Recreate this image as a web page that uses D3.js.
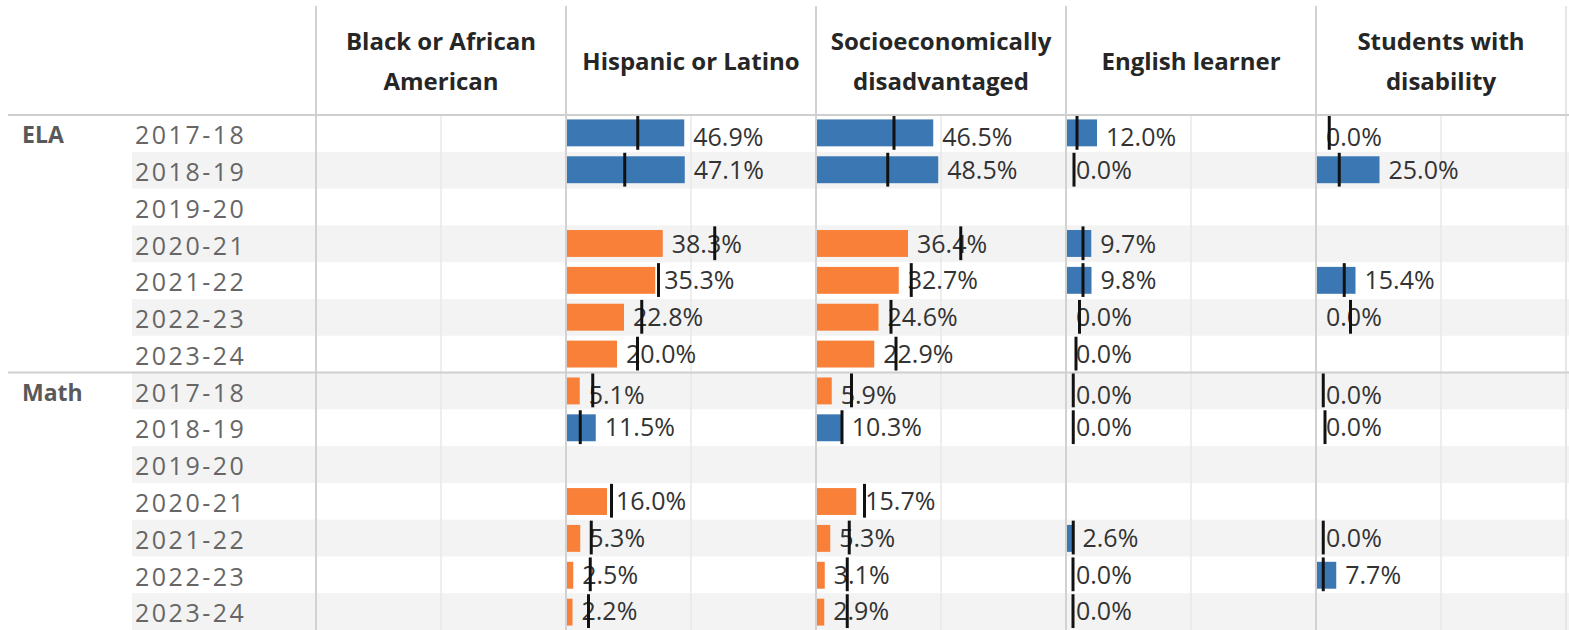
<!DOCTYPE html>
<html>
<head>
<meta charset="utf-8">
<script src="https://cdn.jsdelivr.net/npm/d3@7"></script>
<style>
	body { margin: 0; background: #ffffff; }
	svg { display: block; font-family: "Open Sans", sans-serif; }
</style>
</head>
<body>
<figure id="gapChart" style="margin:0"></figure>
<script>

// row and column categories
var subjects = [ "ELA", "Math" ];
var years = [ "2017-18", "2018-19", "2019-20", "2020-21", "2021-22", "2022-23", "2023-24" ];
var groups = [ "Black or African American", "Hispanic or Latino", "Socioeconomically disadvantaged", "English learner", "Students with disability" ];
// header text split in lines like the table shows it
var groupLines = [ [ "Black or African", "American" ], [ "Hispanic or Latino" ], [ "Socioeconomically", "disadvantaged" ], [ "English learner" ], [ "Students with", "disability" ] ];

// percent met or exceeded, ELA then Math (null = no data)
var blackEla = [ null, null, null, null, null, null, null ];
var blackMath = [ null, null, null, null, null, null, null ];
var hispanicEla = [ 46.9, 47.1, null, 38.3, 35.3, 22.8, 20.0 ];
var hispanicMath = [ 5.1, 11.5, null, 16.0, 5.3, 2.5, 2.2 ];
var sedEla = [ 46.5, 48.5, null, 36.4, 32.7, 24.6, 22.9 ];
var sedMath = [ 5.9, 10.3, null, 15.7, 5.3, 3.1, 2.9 ];
var elEla = [ 12.0, 0.0, null, 9.7, 9.8, 0.0, 0.0 ];
var elMath = [ 0.0, 0.0, null, null, 2.6, 0.0, 0.0 ];
var swdEla = [ 0.0, 25.0, null, null, 15.4, 0.0, null ];
var swdMath = [ 0.0, 0.0, null, null, 0.0, 7.7, null ];

// comparison marks (black ticks), same layout
var hispanicElaRef = [ 28.3, 23.1, null, 59.1, 36.6, 29.9, 28.2 ];
var hispanicMathRef = [ 10.3, 5.3, null, 17.8, 9.7, 9.3, 8.6 ];
var sedElaRef = [ 30.8, 28.3, null, 57.5, 37.7, 29.6, 31.6 ];
var sedMathRef = [ 13.8, 10.0, null, 19.0, 12.9, 12.1, 12.1 ];
var elElaRef = [ 4.0, 2.8, null, 6.4, 6.4, 5.0, 3.6 ];
var elMathRef = [ 2.5, 2.5, null, null, 2.5, 2.4, 2.4 ];
var swdElaRef = [ 4.9, 8.9, null, null, 10.9, 13.4, null ];
var swdMathRef = [ 2.5, 3.2, null, null, 2.5, 2.5, null ];

var seriesValues = [ [ blackEla, blackMath ], [ hispanicEla, hispanicMath ], [ sedEla, sedMath ], [ elEla, elMath ], [ swdEla, swdMath ] ];
var seriesRefs = [ [ blackEla, blackMath ], [ hispanicElaRef, hispanicMathRef ], [ sedElaRef, sedMathRef ], [ elElaRef, elMathRef ], [ swdElaRef, swdMathRef ] ];

function drawTable() {

	var dimensions = {
		width: 1569,
		height: 630,
		headerBottom: 115,
		panelLeft: 316,
		panelRight: 1566,
		stripeLeft: 132
	};

	var svg = d3.select( "figure#gapChart" )
		.append( "svg" )
		.attr( "width", dimensions.width )
		.attr( "height", dimensions.height );

	// one row key per subject + year
	var rows = [];
	subjects.forEach( ( s, si ) => years.forEach( ( y, yi ) => rows.push( { key: s + "|" + y, subject: s, year: y, si: si, yi: yi } ) ) );

	var yScale = d3.scaleBand()
		.domain( rows.map( d => d.key ) )
		.range( [ dimensions.headerBottom, dimensions.height ] );

	var barBand = d3.scaleBand()
		.domain( rows.map( d => d.key ) )
		.range( [ dimensions.headerBottom, dimensions.height ] )
		.paddingInner( 0.27 )
		.paddingOuter( 0.12 );

	var panelScale = d3.scaleBand()
		.domain( groups )
		.range( [ dimensions.panelLeft, dimensions.panelRight ] );

	var xScale = d3.scaleLinear()
		.domain( [ 0, 100 ] )
		.range( [ 0, panelScale.bandwidth() ] );

	// alternating row stripes
	svg.append( "g" ).selectAll( "rect" )
		.data( rows.filter( ( d, i ) => i % 2 == 1 ) )
		.enter()
		.append( "rect" )
		.attr( "x", dimensions.stripeLeft )
		.attr( "y", d => yScale( d.key ) )
		.attr( "width", dimensions.width - dimensions.stripeLeft )
		.attr( "height", yScale.bandwidth() )
		.attr( "fill", "#f3f3f3" );

	// 50% gridline inside each panel
	svg.append( "g" ).selectAll( "line" )
		.data( groups )
		.enter()
		.append( "line" )
		.attr( "x1", d => panelScale( d ) + xScale( 50 ) )
		.attr( "x2", d => panelScale( d ) + xScale( 50 ) )
		.attr( "y1", dimensions.headerBottom )
		.attr( "y2", dimensions.height )
		.attr( "stroke", "#e8e8e8" )
		.attr( "stroke-width", 1.5 );

	// panel borders, top to bottom
	svg.append( "g" ).selectAll( "line" )
		.data( groups.concat( [ "end" ] ) )
		.enter()
		.append( "line" )
		.attr( "x1", d => d == "end" ? dimensions.panelRight : panelScale( d ) )
		.attr( "x2", d => d == "end" ? dimensions.panelRight : panelScale( d ) )
		.attr( "y1", 6 )
		.attr( "y2", dimensions.height )
		.attr( "stroke", d => d == "end" ? "#e6e6e6" : "#d2d2d2" )
		.attr( "stroke-width", 2 );

	// header line and the line between subjects
	svg.append( "g" ).selectAll( "line" )
		.data( [ rows[ 0 ].key, rows[ years.length ].key ] )
		.enter()
		.append( "line" )
		.attr( "x1", 8 )
		.attr( "x2", dimensions.width )
		.attr( "y1", d => yScale( d ) )
		.attr( "y2", d => yScale( d ) )
		.attr( "stroke", "#cfcfcf" )
		.attr( "stroke-width", 2 );

	// column headers
	var headers = svg.append( "g" ).selectAll( "text" )
		.data( groups )
		.enter()
		.append( "text" )
		.attr( "text-anchor", "middle" )
		.style( "font-size", "24px" )
		.style( "font-weight", "bold" )
		.style( "fill", "#262626" );

	headers.selectAll( "tspan" )
		.data( ( d, i ) => groupLines[ i ].map( t => ( { text: t, group: d, n: groupLines[ i ].length } ) ) )
		.enter()
		.append( "tspan" )
		.attr( "x", d => panelScale( d.group ) + panelScale.bandwidth() / 2 )
		.attr( "y", ( d, i ) => d.n == 1 ? 70 : 50 + i * 40 )
		.text( d => d.text );

	// row headers: subject and year
	svg.append( "g" ).selectAll( "text" )
		.data( rows.filter( d => d.yi == 0 ) )
		.enter()
		.append( "text" )
		.attr( "x", 22 )
		.attr( "y", d => yScale( d.key ) + yScale.bandwidth() / 2 + 2 )
		.attr( "dy", "0.35em" )
		.style( "font-size", "23px" )
		.style( "font-weight", "bold" )
		.style( "fill", "#595959" )
		.text( d => d.subject );

	svg.append( "g" ).selectAll( "text" )
		.data( rows )
		.enter()
		.append( "text" )
		.attr( "x", 135 )
		.attr( "y", d => yScale( d.key ) + yScale.bandwidth() / 2 + 2 )
		.attr( "dy", "0.35em" )
		.style( "font-size", "25px" )
		.style( "letter-spacing", "2.5px" )
		.style( "fill", "#666666" )
		.text( d => d.year );

	// flatten the values into one mark per cell
	var cells = [];
	groups.forEach( ( g, gi ) => rows.forEach( r => {
		var v = seriesValues[ gi ][ r.si ][ r.yi ];
		var ref = seriesRefs[ gi ][ r.si ][ r.yi ];
		if ( v != null && gi > 0 ) cells.push( { group: g, row: r, value: v, ref: ref } );
	} ) );

	var barColor = d => d.value >= d.ref ? "#3b77b2" : "#f98039";

	svg.append( "g" ).selectAll( "rect" )
		.data( cells.filter( d => d.value > 0 ) )
		.enter()
		.append( "rect" )
		.attr( "x", d => panelScale( d.group ) + 1 )
		.attr( "y", d => barBand( d.row.key ) )
		.attr( "width", d => xScale( d.value ) )
		.attr( "height", barBand.bandwidth() )
		.attr( "fill", barColor );

	// value labels, first row of each subject sits a bit lower
	svg.append( "g" ).selectAll( "text" )
		.data( cells )
		.enter()
		.append( "text" )
		.attr( "x", d => panelScale( d.group ) + 1 + xScale( d.value ) + 9 )
		.attr( "y", d => yScale( d.row.key ) + yScale.bandwidth() / 2 + ( d.row.yi == 0 ? 4 : 0 ) )
		.attr( "dy", "0.35em" )
		.style( "font-size", "25px" )
		.style( "fill", "#333333" )
		.text( d => d3.format( ".1%" )( d.value / 100 ) );

	// reference ticks drawn on top
	svg.append( "g" ).selectAll( "line" )
		.data( cells.filter( d => d.ref != null ) )
		.enter()
		.append( "line" )
		.attr( "x1", d => panelScale( d.group ) + 1 + xScale( d.ref ) )
		.attr( "x2", d => panelScale( d.group ) + 1 + xScale( d.ref ) )
		.attr( "y1", d => yScale( d.row.key ) + 1 )
		.attr( "y2", d => yScale( d.row.key ) + yScale.bandwidth() - 2 )
		.attr( "stroke", "#111111" )
		.attr( "stroke-width", 3 );
}

drawTable();
</script>
</body>
</html>
